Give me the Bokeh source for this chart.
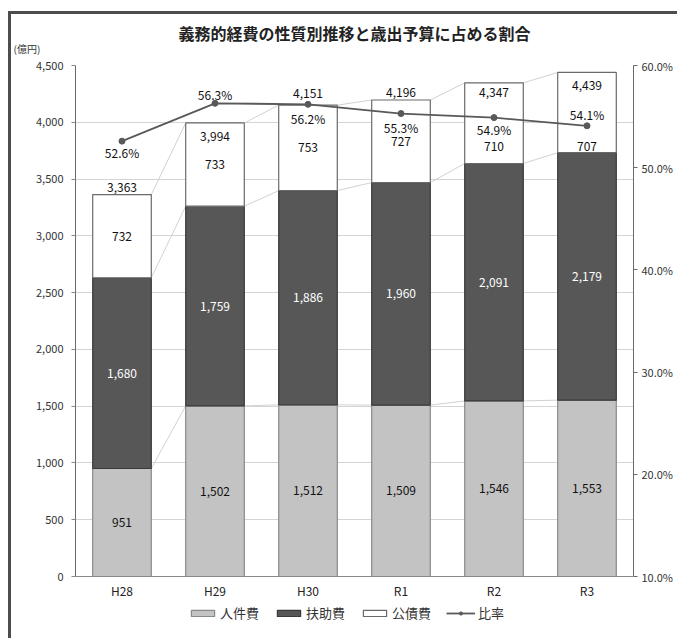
from bokeh.plotting import figure
from bokeh.models import (Range1d, LinearAxis, FixedTicker, NumeralTickFormatter,
                          Legend, LegendItem, ColumnDataSource, Title, Span)
from bokeh.core.properties import value
from bokeh.embed import file_html
from bokeh.resources import INLINE

# ---- data ----
years = ["H28", "H29", "H30", "R1", "R2", "R3"]
personnel = [951, 1502, 1512, 1509, 1546, 1553]      # 人件費
assistance = [1680, 1759, 1886, 1960, 2091, 2179]    # 扶助費
debt = [732, 733, 753, 727, 710, 707]                # 公債費
totals = [3363, 3994, 4151, 4196, 4347, 4439]
ratio = [52.6, 56.3, 56.2, 55.3, 54.9, 54.1]         # 比率 (%)
series_names = ["人件費", "扶助費", "公債費"]
ratio_name = "比率"
left_ticks = [0, 500, 1000, 1500, 2000, 2500, 3000, 3500, 4000, 4500]
right_ticks = [10, 20, 30, 40, 50, 60]
title_text = "義務的経費の性質別推移と歳出予算に占める割合"
unit_text = "(億円)"

# ---- label placement (pixels, screen down positive) ----
total_dy = [-7, 14, -12, -8, 10, 13]
ratio_dy = [11, -9, 14, 14, 12, -11]
debt_dy = [0, 0, 0, 0, 23, 34]

FONT = "Noto Sans CJK JP"
BAR_W = 0.63

# layout in pixels (page coordinates)
PAGE_H = 641
TOP_OFF = 14          # margin + border above the figure
FRAME_TOP = 65        # where the axes' top value sits
ZERO_Y = 576          # where the axes' bottom value sits
LEFT_MAX, PCT_MIN, PCT_MAX = left_ticks[-1], right_ticks[0], right_ticks[-1]
extra_px = PAGE_H - ZERO_Y
y_start = -extra_px * LEFT_MAX / (ZERO_Y - FRAME_TOP)
pct_start = PCT_MIN - extra_px * (PCT_MAX - PCT_MIN) / (ZERO_Y - FRAME_TOP)

xs = [i + 0.5 for i in range(len(years))]
cum1 = personnel
cum2 = [a + b for a, b in zip(personnel, assistance)]
cum3 = [a + b for a, b in zip(cum2, debt)]

src = ColumnDataSource(dict(
    x=xs, personnel=personnel, assistance=assistance, debt=debt,
    total=totals, ratio=ratio, zero=[0] * len(years), year=years,
    mid1=[v / 2 for v in personnel],
    mid2=[a + b / 2 for a, b in zip(cum1, assistance)],
    mid3=[a + b / 2 for a, b in zip(cum2, debt)],
    lab1=[f"{v:,}" for v in personnel],
    lab2=[f"{v:,}" for v in assistance],
    lab3=[f"{v:,}" for v in debt],
    labt=[f"{v:,}" for v in totals],
    labr=[f"{v:.1f}%" for v in ratio],
    total_dy=total_dy, ratio_dy=ratio_dy, debt_dy=debt_dy,
))

p = figure(width=669, height=PAGE_H - TOP_OFF, output_backend="svg", toolbar_location=None,
           x_range=Range1d(0, len(years)), y_range=Range1d(y_start, LEFT_MAX),
           min_border_left=64, min_border_right=47, min_border_top=FRAME_TOP - TOP_OFF,
           min_border_bottom=0, margin=(11, 0, 0, 8))
p.styles = {"border-top": "3px solid #4d4d4d", "border-left": "3px solid #4d4d4d"}
p.background_fill_color = "white"
p.border_fill_color = "white"
p.outline_line_color = None
p.extra_y_ranges = {"pct": Range1d(pct_start, PCT_MAX)}
p.xaxis.visible = False

# grid
p.xgrid.visible = False
p.ygrid.ticker = FixedTicker(ticks=left_ticks)
p.ygrid.grid_line_color = "#d4d4d4"
p.ygrid.grid_line_width = 1

# series lines between bars
for cum in (cum1, cum2, cum3):
    for i in range(len(years) - 1):
        p.line([xs[i] + BAR_W / 2, xs[i + 1] - BAR_W / 2], [cum[i], cum[i + 1]],
               line_color="#d2d2d2", line_width=1)

bars = p.vbar_stack(["personnel", "assistance", "debt"], x="x", width=BAR_W, source=src,
                    fill_color=["#c3c3c3", "#575757", "#ffffff"],
                    line_color=["#8a8a8a", "#3a3a3a", "#6a6a6a"], line_width=1.2)

# category baseline
p.add_layout(Span(location=0, dimension="width", line_color="#8a8a8a", line_width=1))

ln = p.line("x", "ratio", source=src, y_range_name="pct", line_color="#595959", line_width=1.8)
mk = p.scatter("x", "ratio", source=src, y_range_name="pct", size=6,
               fill_color="#595959", line_color="#595959")

# left axis
p.yaxis.ticker = FixedTicker(ticks=left_ticks)
p.yaxis.bounds = (0, LEFT_MAX)
p.yaxis.formatter = NumeralTickFormatter(format="0,0")
p.yaxis.axis_line_color = "#6a6a6a"
p.yaxis.major_tick_line_color = "#8a8a8a"
p.yaxis.major_tick_in = 0
p.yaxis.major_tick_out = 4
p.yaxis.minor_tick_line_color = None
p.yaxis.major_label_text_font = FONT
p.yaxis.major_label_text_font_size = "11px"
p.yaxis.major_label_text_color = "#333333"
p.yaxis.major_label_standoff = 8

# right axis
ra = LinearAxis(y_range_name="pct", ticker=FixedTicker(ticks=right_ticks), bounds=(PCT_MIN, PCT_MAX))
ra.major_label_overrides = {t: f"{t:.1f}%" for t in right_ticks}
ra.axis_line_color = "#6a6a6a"
ra.major_tick_line_color = "#6a6a6a"
ra.major_tick_in = 0
ra.major_tick_out = 4
ra.minor_tick_line_color = None
ra.major_label_text_font = FONT
ra.major_label_text_font_size = "11px"
ra.major_label_text_color = "#333333"
ra.major_label_standoff = 4
p.add_layout(ra, "right")

# category labels
p.text("x", "zero", text="year", source=src, y_offset=14, text_font=value(FONT),
       text_font_size="12px", text_align="center", text_baseline="middle",
       text_color="#222222")

# value labels
common = dict(source=src, text_font=value(FONT), text_font_size="12px",
              text_align="center", text_baseline="middle")
p.text("x", "mid1", text="lab1", text_color="#111111", **common)
p.text("x", "mid2", text="lab2", text_color="#ffffff", **common)
p.text("x", "mid3", text="lab3", y_offset="debt_dy", text_color="#111111", **common)
p.text("x", "total", text="labt", y_offset="total_dy", text_color="#111111", **common)
p.text("x", "ratio", text="labr", y_offset="ratio_dy", y_range_name="pct",
       text_color="#111111", **common)

# unit (closest to frame) and title (allowed to overlap the unit's row)
p.add_layout(Title(text=unit_text, align="left", offset=-62, text_font=FONT,
                   text_font_size="10px", text_font_style="normal",
                   text_color="#333333", standoff=19), "above")
p.title.text = title_text
p.title.align = "center"
p.title.offset = -14
p.title.standoff = -30
p.title.text_font = FONT
p.title.text_font_size = "16px"
p.title.text_font_style = "bold"
p.title.text_color = "#222222"

# legend (inside the extended frame, below the category labels)
legend = Legend(items=[LegendItem(label=series_names[0], renderers=[bars[0]]),
                       LegendItem(label=series_names[1], renderers=[bars[1]]),
                       LegendItem(label=series_names[2], renderers=[bars[2]]),
                       LegendItem(label=ratio_name, renderers=[ln, mk])],
                orientation="horizontal", location=(113, 19),
                glyph_width=29, glyph_height=8, label_standoff=3, spacing=15,
                padding=0, margin=0,
                label_text_font=FONT, label_text_font_size="13px",
                label_text_color="#333333",
                border_line_color=None, background_fill_alpha=0)
p.add_layout(legend, "center")

open("out.html", "w").write(file_html(p, INLINE))
